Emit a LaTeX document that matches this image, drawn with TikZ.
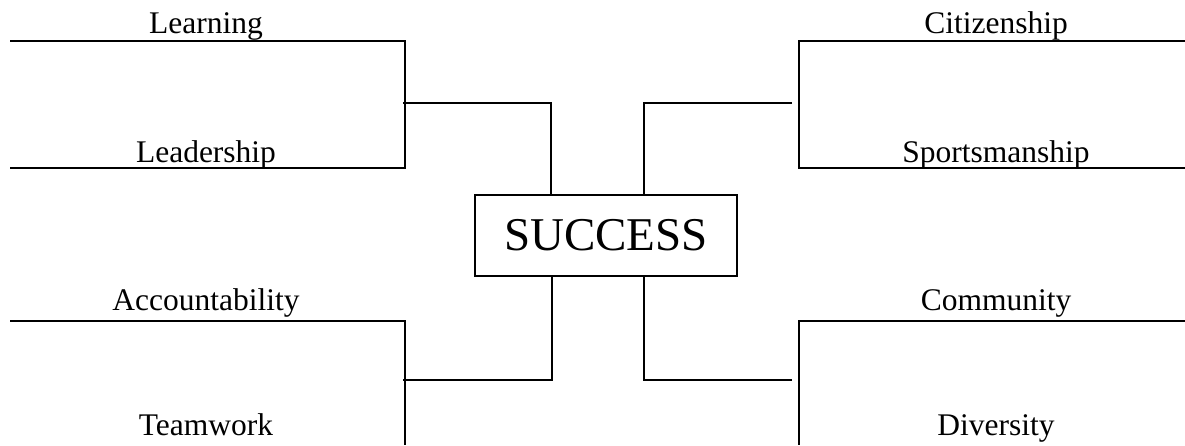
\documentclass[tikz,border=0pt]{standalone}
\usepackage{fontspec}
\setmainfont{Liberation Serif}
\usepackage{tikz}
\usetikzlibrary{positioning,calc}

\begin{document}
\begin{tikzpicture}[x=1pt, y=-1pt,
  bar/.style={line width=2pt},
  lab/.style={font=\fontsize{31.5}{36}\selectfont, anchor=base, inner sep=0pt}]
\useasboundingbox (0,0) rectangle (1185,445);

\node[draw,line width=1.3pt,inner sep=0pt,minimum width=262pt,minimum height=81pt,
      font=\fontsize{47}{52}\selectfont] (success) at (606,235.5) {SUCCESS};

\node[lab] (learn) at (206,33) {Learning};
\node[lab] (lead) at (206,162) {Leadership};
\node[lab] (acc) at (206,310) {Accountability};
\node[lab] (team) at (206,435) {Teamwork};
\node[lab] (citi) at (996,33) {Citizenship};
\node[lab] (sport) at (996,162) {Sportsmanship};
\node[lab] (comm) at (996,310) {Community};
\node[lab] (div) at (996,435) {Diversity};

% brackets
\draw[bar] (10,41) -- (405,41) -- (405,168) -- (10,168);
\draw[bar] (1185,41) -- (799,41) -- (799,168) -- (1185,168);
\draw[bar] (10,321) -- (405,321) -- (405,445);
\draw[bar] (1185,321) -- (799,321) -- (799,445);

% joins to the box
\coordinate (tlj) at (403,103);
\coordinate (trj) at (792,103);
\coordinate (blj) at (403,380);
\coordinate (brj) at (792,380);
\draw[bar] (tlj) -| ([xshift=77pt]success.north west);
\draw[bar] (trj) -| ([xshift=-94pt]success.north east);
\draw[bar] (blj) -| ([xshift=78pt]success.south west);
\draw[bar] (brj) -| ([xshift=-94pt]success.south east);
\end{tikzpicture}
\end{document}
